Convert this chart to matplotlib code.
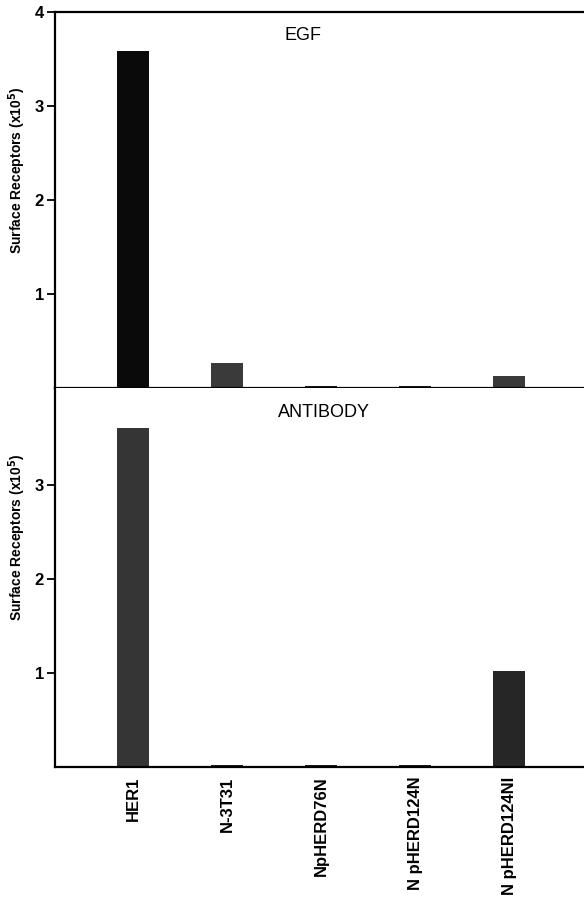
import numpy as np
import matplotlib.pyplot as plt

# data
cells = ["HER1", "N-3T31", "NpHERD76N", "N pHERD124N", "N pHERD124NI"]
egf = [3.58, 0.27, 0.02, 0.02, 0.13]
antibody = [3.61, 0.02, 0.02, 0.02, 1.02]

egf_colors = ["#0a0a0a", "#3a3a3a", "#1a1a1a", "#1a1a1a", "#3a3a3a"]
ab_colors = ["#353535", "#1a1a1a", "#1a1a1a", "#1a1a1a", "#262626"]

plt.rcParams['font.family'] = ['Liberation Sans', 'DejaVu Sans']

fig = plt.figure(figsize=(5.84, 9.01), dpi=100)
ax1 = fig.add_axes([0.0942, 0.5694, 0.91, 0.4173])
ax2 = fig.add_axes([0.0942, 0.1487, 0.91, 0.4206])

x = np.arange(len(cells))


def style(ax, ymax, ticks):
    ax.set_xlim(-0.834, 4.82)
    ax.set_ylim(0, ymax)
    ax.set_yticks(ticks)
    ax.set_yticklabels([str(t) for t in ticks], fontsize=12, fontweight='bold')
    ax.tick_params(axis='y', direction='out', length=6, width=1.3, pad=2)
    ax.spines['right'].set_visible(False)
    for s in ['left', 'top', 'bottom']:
        ax.spines[s].set_linewidth(1.6)
    ax.set_ylabel("Surface Receptors (x10$^{\\mathbf{5}}$)", fontsize=10,
                  fontweight='bold')


ax1.bar(x, egf, width=0.34, color=egf_colors)
style(ax1, 4, [1, 2, 3, 4])
ax1.set_xticks([])
ax1.text(1.8, 3.75, "EGF", fontsize=13, fontweight='medium', ha='center', va='center')
ax1.yaxis.set_label_coords(-0.05, 0.58)

ax2.bar(x, antibody, width=0.34, color=ab_colors)
style(ax2, 4.03, [1, 2, 3])
ax2.spines['top'].set_visible(False)
ax2.set_xticks(x)
ax2.set_xticklabels(cells, rotation=90, fontsize=12, fontweight='bold')
ax2.tick_params(axis='x', length=0, pad=7)
ax2.text(2.03, 3.77, "ANTIBODY", fontsize=13, fontweight='medium', ha='center', va='center')
ax2.yaxis.set_label_coords(-0.05, 0.607)

fig.savefig("out.png", dpi=100)
